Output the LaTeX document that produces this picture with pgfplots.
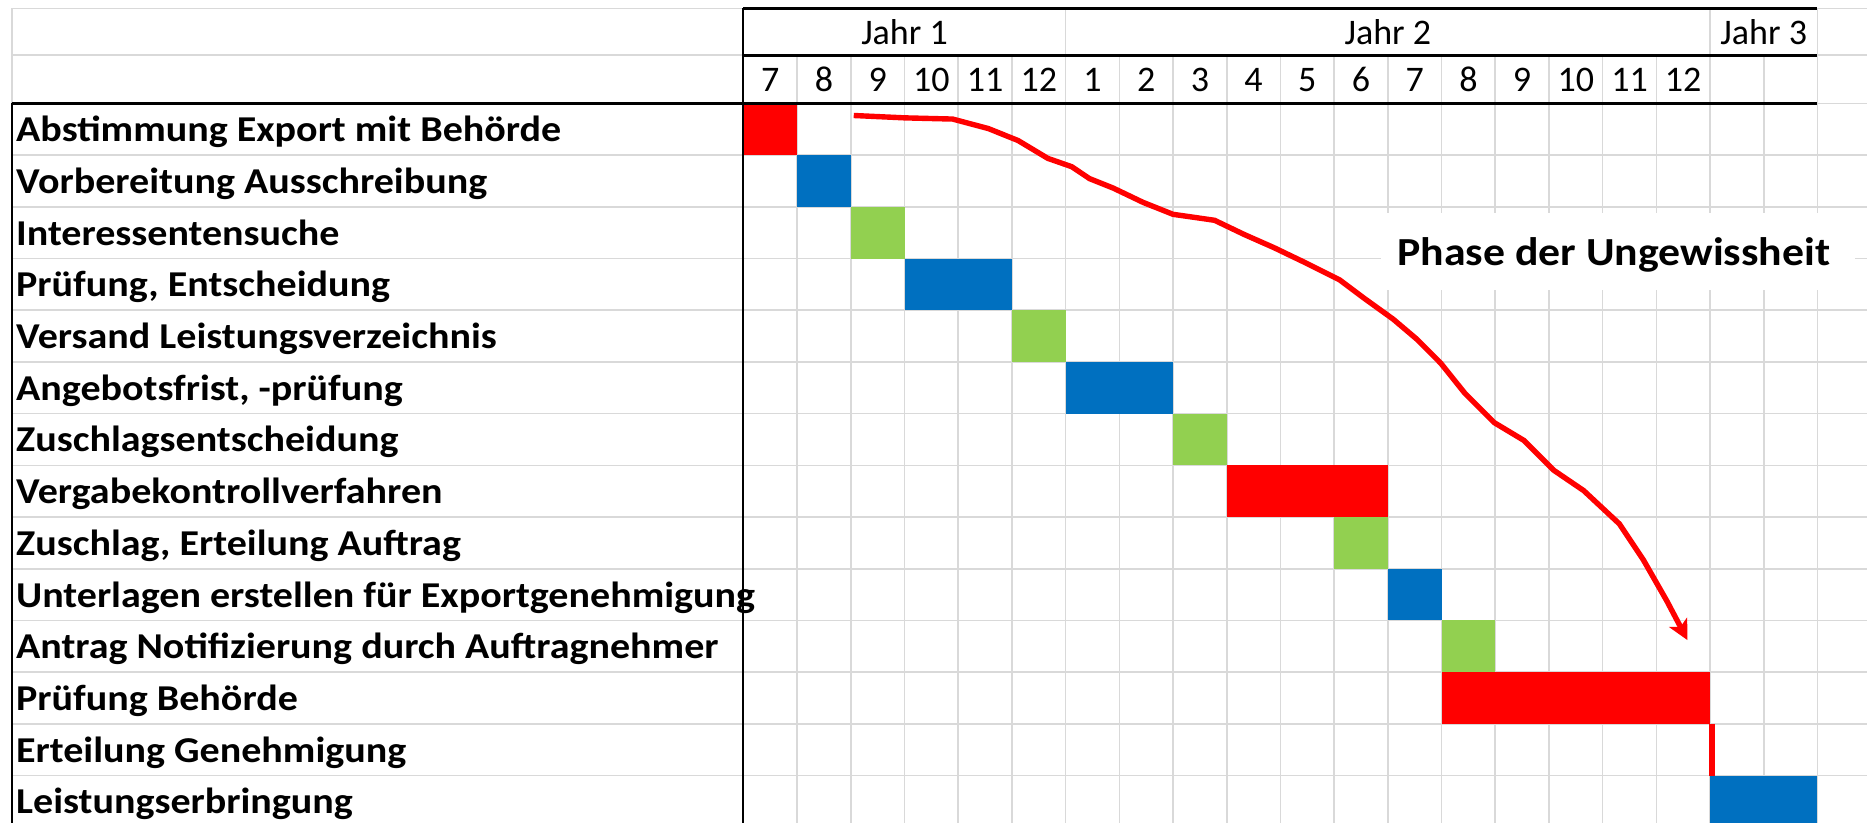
\documentclass[border=0pt]{standalone}
\usepackage{pgfplots}
\pgfplotsset{compat=1.18}
\usepackage{fontspec}
\setmainfont{Carlito}
\newfontfamily\wideb{Carlito}[FakeStretch=1.1]
\usetikzlibrary{arrows.meta}
\definecolor{gbar}{HTML}{92D050}
\definecolor{bbar}{HTML}{0070C0}
\definecolor{rbar}{HTML}{FF0000}
\definecolor{gridg}{HTML}{D9D9D9}
\begin{document}
\begin{tikzpicture}
\begin{axis}[name=ax, at={(0,0)}, anchor=south west,
  width=933.5pt, height=411.5pt, scale only axis,
  xmin=-13.844, xmax=20.923, ymin=-2.002, ymax=13.917, y dir=reverse,
  hide axis, clip=true]
% light gray grid
\pgfplotsinvokeforeach{1,...,13}{
  \draw[gridg, line width=0.8pt] (axis cs:-13.626,#1) -- (axis cs:20.923,#1);
}
\draw[gridg, line width=0.8pt] (axis cs:-13.626,-1.841) -- (axis cs:20.923,-1.841);
\draw[gridg, line width=0.8pt] (axis cs:-13.626,-0.938) -- (axis cs:20.923,-0.938);
\draw[gridg, line width=0.8pt] (axis cs:-13.626,0) -- (axis cs:20.923,0);
\draw[gridg, line width=0.8pt] (axis cs:-13.626,-1.841) -- (axis cs:-13.626,0);
\pgfplotsinvokeforeach{1,...,20}{
  \draw[gridg, line width=0.8pt] (axis cs:#1,-0.938) -- (axis cs:#1,14);
}
\pgfplotsinvokeforeach{6,18,20}{
  \draw[gridg, line width=0.8pt] (axis cs:#1,-1.841) -- (axis cs:#1,-0.938);
}
% bars
\addplot[fill=rbar, draw=none] coordinates {(0,0) (1,0) (1,1) (0,1)} -- cycle;
\addplot[fill=bbar, draw=none] coordinates {(1,1) (2,1) (2,2) (1,2)} -- cycle;
\addplot[fill=gbar, draw=none] coordinates {(2,2) (3,2) (3,3) (2,3)} -- cycle;
\addplot[fill=bbar, draw=none] coordinates {(3,3) (5,3) (5,4) (3,4)} -- cycle;
\addplot[fill=gbar, draw=none] coordinates {(5,4) (6,4) (6,5) (5,5)} -- cycle;
\addplot[fill=bbar, draw=none] coordinates {(6,5) (8,5) (8,6) (6,6)} -- cycle;
\addplot[fill=gbar, draw=none] coordinates {(8,6) (9,6) (9,7) (8,7)} -- cycle;
\addplot[fill=rbar, draw=none] coordinates {(9,7) (12,7) (12,8) (9,8)} -- cycle;
\addplot[fill=gbar, draw=none] coordinates {(11,8) (12,8) (12,9) (11,9)} -- cycle;
\addplot[fill=bbar, draw=none] coordinates {(12,9) (13,9) (13,10) (12,10)} -- cycle;
\addplot[fill=gbar, draw=none] coordinates {(13,10) (14,10) (14,11) (13,11)} -- cycle;
\addplot[fill=rbar, draw=none] coordinates {(13,11) (18,11) (18,12) (13,12)} -- cycle;
\addplot[rbar, line width=3pt] coordinates {(18.03,12) (18.03,13)};
\addplot[fill=bbar, draw=none] coordinates {(18,13) (20,13) (20,14) (18,14)} -- cycle;
% black frame lines
\draw[black, line width=1.5pt] (axis cs:0,-1.841) -- (axis cs:20,-1.841);
\draw[black, line width=1.5pt] (axis cs:0,-0.938) -- (axis cs:20,-0.938);
\draw[black, line width=1.5pt] (axis cs:-13.626,0) -- (axis cs:20,0);
\draw[black, line width=1pt] (axis cs:0,-1.841) -- (axis cs:0,14);
\draw[black, line width=0.9pt] (axis cs:-13.626,0) -- (axis cs:-13.626,14);
% header text
\foreach \c/\m in {0/7,1/8,2/9,3/10,4/11,5/12,6/1,7/2,8/3,9/4,10/5,11/6,12/7,13/8,14/9,15/10,16/11,17/12}{
  \edef\tmp{\noexpand\node[anchor=base, inner sep=0pt, font=\noexpand\fontsize{18}{22}\noexpand\selectfont] at (axis cs:\c+0.5,-0.228) {\m};}
  \tmp
}
\node[anchor=base, inner sep=0pt, font=\fontsize{18}{22}\selectfont] at (axis cs:3,-1.132) {Jahr 1};
\node[anchor=base, inner sep=0pt, font=\fontsize{18}{22}\selectfont] at (axis cs:12,-1.132) {Jahr 2};
\node[anchor=base, inner sep=0pt, font=\fontsize{18}{22}\selectfont] at (axis cs:19,-1.132) {Jahr 3};
% task labels
\foreach \r/\t in {0/Abstimmung Export mit Behörde,1/Vorbereitung Ausschreibung,2/Interessentensuche,3/{Prüfung, Entscheidung},4/Versand Leistungsverzeichnis,5/{Angebotsfrist, -prüfung},6/Zuschlagsentscheidung,7/Vergabekontrollverfahren,8/{Zuschlag, Erteilung Auftrag},9/Unterlagen erstellen für Exportgenehmigung,10/Antrag Notifizierung durch Auftragnehmer,11/Prüfung Behörde,12/Erteilung Genehmigung,13/Leistungserbringung}{
  \edef\tmp{\noexpand\node[anchor=base west, inner sep=0pt, font=\noexpand\wideb\noexpand\bfseries\noexpand\fontsize{18.2}{22}\noexpand\selectfont] at (axis cs:-13.55,\r+0.74) {\noexpand\unexpanded{\t}};}
  \tmp
}
% phase box and text
\node[fill=white, minimum width=237pt, minimum height=38.5pt, inner sep=0pt] at (axis cs:16.29,2.863) {};
\node[anchor=base, inner sep=0pt, font=\wideb\bfseries\fontsize{19.9}{24}\selectfont] at (axis cs:16.21,3.143) {Phase der Ungewissheit};
% uncertainty curve
\addplot[rbar, line width=2.7pt, -{Stealth[length=10pt, width=10pt, inset=2.5pt]}] coordinates {
(2.054,0.232) (3.009,0.278) (3.896,0.301) (4.561,0.485) (5.114,0.716) (5.668,1.061)
(6.112,1.222) (6.445,1.453) (6.888,1.637) (7.443,1.913) (7.997,2.143) (8.773,2.259)
(9.328,2.535) (9.881,2.789) (10.436,3.066) (11.101,3.411) (11.544,3.756) (12.099,4.171)
(12.542,4.561) (12.985,5.023) (13.429,5.598) (13.983,6.174) (14.538,6.520) (15.091,7.095)
(15.646,7.487) (16.311,8.131) (16.755,8.822) (17.199,9.629) (17.58,10.38)};
\end{axis}
\pgfresetboundingbox
\path (ax.south west) rectangle (ax.north east);
\end{tikzpicture}
\end{document}
